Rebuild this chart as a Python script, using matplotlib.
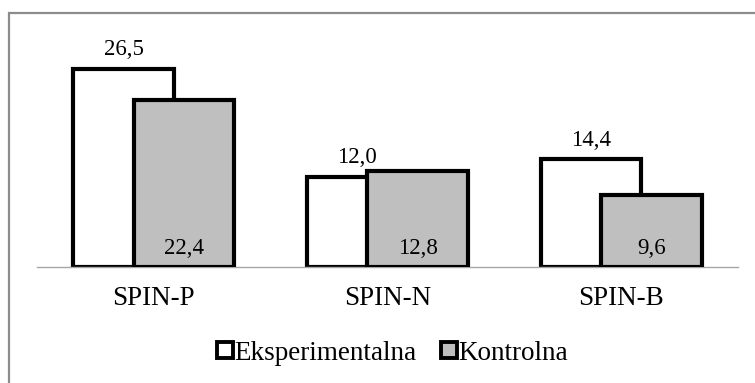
import numpy as np
import matplotlib.pyplot as plt
from matplotlib.patches import Rectangle
from matplotlib.lines import Line2D

plt.rcParams['font.family'] = ['Liberation Serif', 'DejaVu Serif']

categories = ['SPIN-P', 'SPIN-N', 'SPIN-B']
eksperimentalna = [26.5, 12.0, 14.4]
kontrolna = [22.4, 12.8, 9.6]

fig = plt.figure(figsize=(7.55, 3.83), dpi=100)
ax = fig.add_axes([37 / 755, 116 / 383, 701 / 755, 224 / 383])

x = np.arange(len(categories))
w = 0.43
off = 0.129

ax.bar(x - off, eksperimentalna, w, color='white', edgecolor='black', linewidth=3, zorder=2)
ax.bar(x + off, kontrolna, w, color='#bfbfbf', edgecolor='black', linewidth=3, zorder=3)

for xi, v in zip(x, eksperimentalna):
    ax.text(xi - off, v + 1.2, f'{v:.1f}'.replace('.', ','), ha='center', va='bottom', fontsize=16.5)
for xi, v in zip(x, kontrolna):
    ax.text(xi + off, 1.1, f'{v:.1f}'.replace('.', ','), ha='center', va='bottom', fontsize=16.5, zorder=4)

ax.set_xlim(-0.5, 2.5)
ax.set_ylim(0, 30)
ax.set_xticks(x)
ax.set_xticklabels(categories, fontsize=19.5)
ax.tick_params(axis='x', length=0, pad=14)
ax.set_yticks([])
for s in ['top', 'right', 'left']:
    ax.spines[s].set_visible(False)
ax.spines['bottom'].set_color('#a6a6a6')
ax.spines['bottom'].set_linewidth(1)

handles = [
    Line2D([], [], marker='s', linestyle='none', markersize=11, markerfacecolor='white',
           markeredgecolor='black', markeredgewidth=2.8),
    Line2D([], [], marker='s', linestyle='none', markersize=11, markerfacecolor='#bfbfbf',
           markeredgecolor='black', markeredgewidth=2.8),
]
fig.legend(handles, ['Eksperimentalna', 'Kontrolna'], loc='center', ncol=2,
           bbox_to_anchor=(392 / 755, 1 - 353 / 383), frameon=False, fontsize=19.5,
           handletextpad=0.0, columnspacing=0.85, handlelength=0.7)

# grey frame around the chart area
fig.patches.append(Rectangle((9 / 755, -0.1), 1.2, 1 - 13 / 383 + 0.1, transform=fig.transFigure,
                             fill=False, edgecolor='#8c8c8c', linewidth=1.6))

fig.savefig('out.png', dpi=100)
